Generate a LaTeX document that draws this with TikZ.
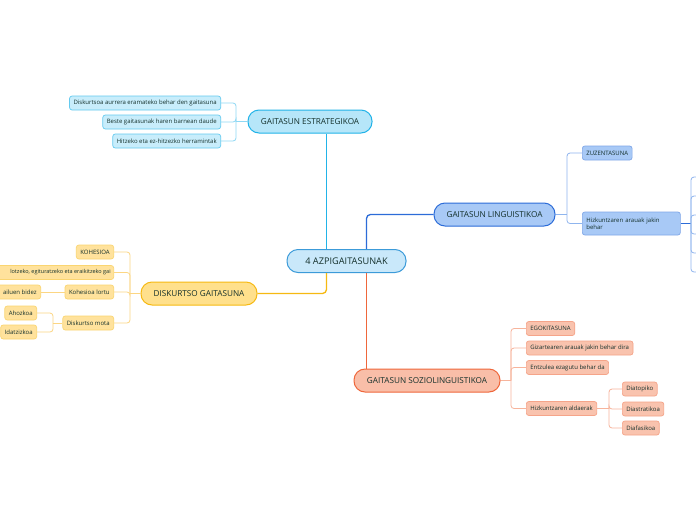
\documentclass[tikz,border=0pt]{standalone}
\usepackage{fontspec}
\setmainfont{Open Sans}
\usetikzlibrary{positioning,calc}
\definecolor{darktext}{HTML}{14302B}
\definecolor{rootfill}{HTML}{C9E8FA}
\definecolor{rootdraw}{HTML}{3C9BD9}
\definecolor{estrfill}{HTML}{B6E6F9}
\definecolor{estrdraw}{HTML}{22B3E8}
\definecolor{estrleaf}{HTML}{C8EDFB}
\definecolor{estrthin}{HTML}{8ED8F4}
\definecolor{lingfill}{HTML}{A8C9F6}
\definecolor{lingdraw}{HTML}{2C6CD8}
\definecolor{lingthin}{HTML}{8FB5EE}
\definecolor{diskfill}{HTML}{FFE08C}
\definecolor{diskdraw}{HTML}{F6B912}
\definecolor{diskleaf}{HTML}{FFE29C}
\definecolor{diskthin}{HTML}{FCD683}
\definecolor{soziofill}{HTML}{F9BEA8}
\definecolor{soziodraw}{HTML}{EF673B}
\definecolor{sozioleaf}{HTML}{F9C3AE}
\definecolor{soziothin}{HTML}{F7B49C}

\begin{document}
\begin{tikzpicture}[x=1pt, y=-1pt,
  topic/.style={rectangle, rounded corners=11pt, draw, line width=1pt,
                minimum height=23pt, inner xsep=6pt,
                font=\fontsize{8.2}{9.5}\selectfont, text=darktext},
  leaf/.style={rectangle, rounded corners=2.5pt, draw, line width=0.7pt,
               minimum height=14pt, inner xsep=4pt, inner ysep=1pt,
               font=\fontsize{6}{7.5}\selectfont, text=darktext},
  bigline/.style={line width=1.3pt},
  thinline/.style={line width=0.8pt, rounded corners=3pt},
]
  \useasboundingbox (0,0) rectangle (696,520);
  \fill[white] (0,0) rectangle (696,520);
  \clip (0,0) rectangle (696,520);

  % central topic
  \node[topic, fill=rootfill, draw=rootdraw, minimum width=119pt,
        font=\fontsize{9.2}{11}\selectfont] (root) at (346.5,261) {4 AZPIGAITASUNAK};
  \coordinate (rl) at ([xshift=-20pt]root.north);
  \coordinate (rr) at ([xshift=20pt]root.north);

  % main topics
  \node[topic, fill=estrfill, draw=estrdraw, minimum width=124pt] (estr) at (310,121.5) {GAITASUN ESTRATEGIKOA};
  \node[topic, fill=lingfill, draw=lingdraw, minimum width=121pt] (ling) at (494.5,214.5) {GAITASUN LINGUISTIKOA};
  \node[topic, fill=diskfill, draw=diskdraw, minimum width=116pt] (disk) at (199,293.5) {DISKURTSO GAITASUNA};
  \node[topic, fill=soziofill, draw=soziodraw, minimum width=146pt] (sozio) at (427,380.5) {GAITASUN SOZIOLINGUISTIKOA};

  \draw[bigline, estrdraw] (rl) -- (rl |- estr.south);
  \draw[bigline, lingdraw, rounded corners=4pt] (rr) |- (ling.west);
  \draw[bigline, diskdraw, rounded corners=4pt] (rl |- root.south) |- (disk.east);
  \draw[bigline, soziodraw] (rr |- root.south) -- (rr |- sozio.north);

  % estrategikoa
  \begin{scope}[every node/.style={leaf, fill=estrleaf, draw=estrdraw!70, anchor=east}]
    \node (e1) at (221,103) {Diskurtsoa aurrera eramateko behar den gaitasuna};
    \node (e2) at (221,122) {Beste gaitasunak haren barnean daude};
    \node (e3) at (221,141) {Hitzeko eta ez-hitzezko herramintak};
  \end{scope}
  \draw[thinline, estrthin] (estr.west) -- (236,121.5) coordinate (ej);
  \foreach \n in {e1,e2,e3}
    \draw[thinline, estrthin] (ej) |- (\n.east);

  % linguistikoa
  \begin{scope}[every node/.style={leaf, fill=lingfill, draw=lingdraw!60, anchor=west}]
    \node (l1) at (582,153) {ZUZENTASUNA};
    \node[text width=90pt, align=left, minimum height=23pt] (l2) at (582,223.5) {Hizkuntzaren arauak jakin\\behar};
  \end{scope}
  \draw[thinline, lingthin] (ling.east) -- (567,214.5) coordinate (lj);
  \foreach \n in {l1,l2}
    \draw[thinline, lingthin] (lj) |- (\n.west);
  \draw[bigline, lingdraw] (l2.east) -- (691,223.5) coordinate (hj);
  \foreach \y [count=\i] in {177,196,215,234,253,272} {
    \coordinate (h\i) at (710,\y);
    \draw[thinline, lingthin] (hj) |- (h\i);
  }

  % diskurtso
  \begin{scope}[every node/.style={leaf, fill=diskleaf, draw=diskdraw!60, anchor=east}]
    \node (d1) at (114,252) {KOHESIOA};
    \node[text width=150pt, align=flush right, inner xsep=3pt,
          font=\fontsize{5.5}{7}\selectfont] (d2) at (114,272.5) {lotzeko, egituratzeko eta eraikitzeko gai};
    \node (d3) at (114,292) {Kohesioa lortu};
    \node (d4) at (114,323) {Diskurtso mota};
    \node[text width=60pt, align=flush right] (d31) at (41,292) {ailuen bidez};
    \node (d41) at (37,313) {Ahozkoa};
    \node (d42) at (37,332) {Idatzizkoa};
  \end{scope}
  \draw[thinline, diskthin] (disk.west) -- (130,293.5) coordinate (dj);
  \foreach \n in {d1,d2,d3,d4}
    \draw[thinline, diskthin] (dj) |- (\n.east);
  \draw[thinline, diskthin] (d3.west) -- (d31.east);
  \draw[thinline, diskthin] (d4.west) -- (53,323) coordinate (mj);
  \foreach \n in {d41,d42}
    \draw[thinline, diskthin] (mj) |- (\n.east);

  % soziolinguistikoa
  \begin{scope}[every node/.style={leaf, fill=sozioleaf, draw=soziodraw!60, anchor=west}]
    \node (s1) at (526,328.5) {EGOKITASUNA};
    \node (s2) at (526,348) {Gizartearen arauak jakin behar dira};
    \node (s3) at (526,367.5) {Entzulea ezagutu behar da};
    \node (s4) at (526,408.5) {Hizkuntzaren aldaerak};
    \node (s41) at (622,389) {Diatopiko};
    \node (s42) at (622,409) {Diastratikoa};
    \node (s43) at (622,428) {Diafasikoa};
  \end{scope}
  \draw[thinline, soziothin] (sozio.east) -- (511,380.5) coordinate (sj);
  \foreach \n in {s1,s2,s3,s4}
    \draw[thinline, soziothin] (sj) |- (\n.west);
  \draw[thinline, soziothin] (s4.east) -- (609,408.5) coordinate (aj);
  \foreach \n in {s41,s42,s43}
    \draw[thinline, soziothin] (aj) |- (\n.west);
\end{tikzpicture}
\end{document}
